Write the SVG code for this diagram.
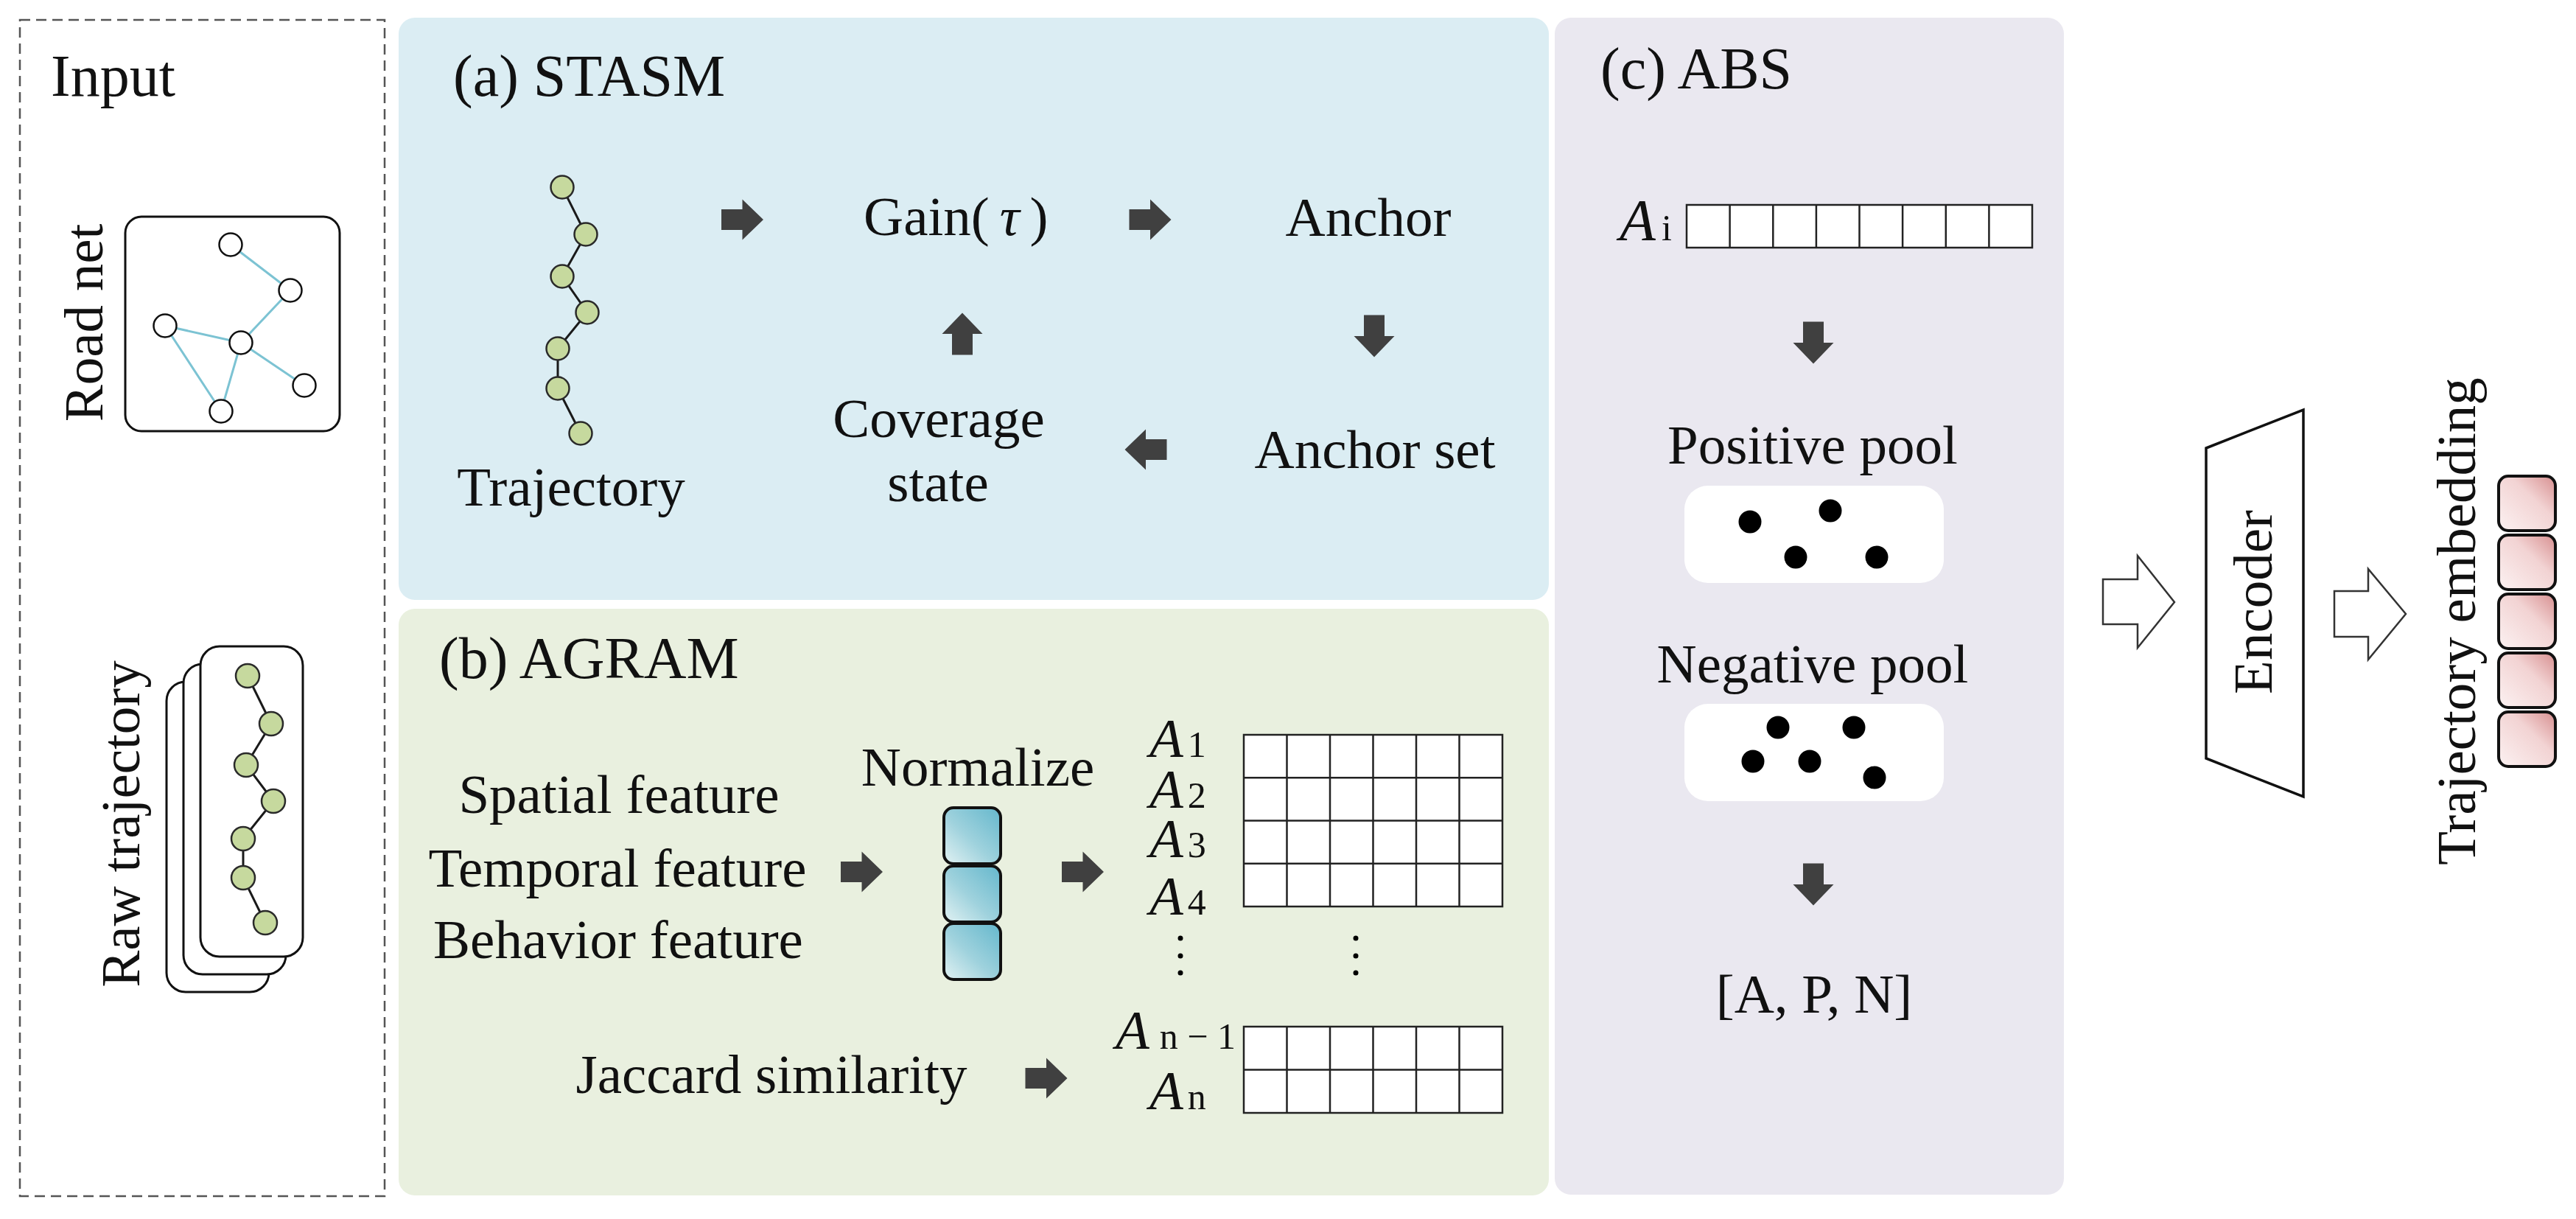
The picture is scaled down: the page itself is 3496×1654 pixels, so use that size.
<svg xmlns="http://www.w3.org/2000/svg" xmlns:xlink="http://www.w3.org/1999/xlink" width="3496" height="1654" viewBox="0 0 3496 1654">
<style>
text{font-family:"Liberation Serif","Times New Roman",serif;fill:#111;}
.t{font-size:75px;}
.h{font-size:80px;}
.it{font-style:italic;}
.sub{font-size:50px;}
.mid{text-anchor:middle;}
.gn{fill:#c6d99e;stroke:#2a2a2a;stroke-width:2.5;}
.wn{fill:#fff;stroke:#111;stroke-width:2.5;}
.lk{stroke:#1a1a1a;stroke-width:3;fill:none;}
.rl{stroke:#7cc3d3;stroke-width:3;fill:none;}
.cell{fill:#fff;stroke:#222;stroke-width:2.5;}
.gl{stroke:#222;stroke-width:2.5;}
.dot{fill:#000;}
.ha{fill:#fff;stroke:#333;stroke-width:2.5;stroke-linejoin:miter;}
</style>
<defs>
<path id="blk" d="M-28.5,-14 H0 V-27.5 L28.5,0 L0,27.5 V14 H-28.5 Z" fill="#404040"/>
<linearGradient id="teal" x1="0" y1="1" x2="1" y2="0">
<stop offset="0" stop-color="#e2f2f3"/>
<stop offset="0.45" stop-color="#9fd2dd"/>
<stop offset="1" stop-color="#64b7cc"/>
</linearGradient>
<linearGradient id="pink" x1="0" y1="1" x2="1" y2="0">
<stop offset="0" stop-color="#fcf2f2"/>
<stop offset="0.6" stop-color="#f2d3d3"/>
<stop offset="1" stop-color="#d78f90"/>
</linearGradient>
</defs>
<rect width="3496" height="1654" fill="#fff"/>

<!-- Input panel -->
<g id="input">
<rect x="27" y="27" width="495" height="1596" fill="none" stroke="#555" stroke-width="2.5" stroke-dasharray="14 8"/>
<text class="h" x="69" y="130">Input</text>
</g>
<g id="road-net">
<text class="t mid" transform="translate(139,438) rotate(-90)">Road net</text>
<rect x="170" y="294" width="291" height="291" rx="22" fill="#fff" stroke="#111" stroke-width="3"/>
<line class="rl" x1="313" y1="332" x2="394" y2="394"/>
<line class="rl" x1="394" y1="394" x2="327" y2="465"/>
<line class="rl" x1="224" y1="442" x2="327" y2="465"/>
<line class="rl" x1="224" y1="442" x2="300" y2="558"/>
<line class="rl" x1="327" y1="465" x2="300" y2="558"/>
<line class="rl" x1="327" y1="465" x2="413" y2="523"/>
<circle class="wn" cx="313" cy="332" r="15.5"/>
<circle class="wn" cx="394" cy="394" r="15.5"/>
<circle class="wn" cx="224" cy="442" r="15.5"/>
<circle class="wn" cx="327" cy="465" r="15.5"/>
<circle class="wn" cx="413" cy="523" r="15.5"/>
<circle class="wn" cx="300" cy="558" r="15.5"/>
</g>
<g id="raw-trajectory">
<text class="t mid" transform="translate(189,1118) rotate(-90)">Raw trajectory</text>
<rect x="226" y="925" width="139" height="421" rx="26" fill="#fff" stroke="#111" stroke-width="3"/>
<rect x="249" y="901" width="139" height="421" rx="26" fill="#fff" stroke="#111" stroke-width="3"/>
<rect x="272" y="877" width="139" height="421" rx="26" fill="#fff" stroke="#111" stroke-width="3"/>
<polyline class="lk" points="336,917 368,982 334,1038 371,1087 330,1138 330,1191 360,1252"/>
<circle class="gn" cx="336" cy="917" r="16"/>
<circle class="gn" cx="368" cy="982" r="16"/>
<circle class="gn" cx="334" cy="1038" r="16"/>
<circle class="gn" cx="371" cy="1087" r="16"/>
<circle class="gn" cx="330" cy="1138" r="16"/>
<circle class="gn" cx="330" cy="1191" r="16"/>
<circle class="gn" cx="360" cy="1252" r="16"/>
</g>

<!-- (a) STASM -->
<g id="stasm">
<rect x="541" y="24" width="1561" height="790" rx="22" fill="#dbedf3"/>
<text class="h" x="615" y="130">(a) STASM</text>
</g>
<g id="trajectory">
<polyline class="lk" points="763,254 795,318 763,375 797,424 757,473 757,527 788,588"/>
<circle class="gn" cx="763" cy="254" r="15.5"/>
<circle class="gn" cx="795" cy="318" r="15.5"/>
<circle class="gn" cx="763" cy="375" r="15.5"/>
<circle class="gn" cx="797" cy="424" r="15.5"/>
<circle class="gn" cx="757" cy="473" r="15.5"/>
<circle class="gn" cx="757" cy="527" r="15.5"/>
<circle class="gn" cx="788" cy="588" r="15.5"/>
<text class="t mid" x="775" y="686">Trajectory</text>
</g>
<g id="gain">
<text class="t" x="1172" y="319">Gain(<tspan class="it" dx="14">τ</tspan><tspan dx="14">)</tspan></text>
</g>
<g id="anchor">
<text class="t mid" x="1857" y="320">Anchor</text>
</g>
<g id="anchor-set">
<text class="t mid" x="1866" y="635">Anchor set</text>
</g>
<g id="coverage-state">
<text class="t mid" x="1274" y="593">Coverage</text>
<text class="t mid" x="1273" y="680">state</text>
</g>

<!-- (b) AGRAM -->
<g id="agram">
<rect x="541" y="826" width="1561" height="796" rx="22" fill="#e9f0df"/>
<text class="h" x="596" y="920">(b) AGRAM</text>
</g>
<g id="features">
<text class="t mid" x="840" y="1103">Spatial feature</text>
<text class="t mid" x="838" y="1203">Temporal feature</text>
<text class="t mid" x="839" y="1300">Behavior feature</text>
</g>
<g id="normalize">
<text class="t mid" x="1327" y="1066">Normalize</text>
<rect x="1281" y="1096" width="77" height="76" rx="13" fill="url(#teal)" stroke="#111" stroke-width="4"/>
<rect x="1281" y="1175" width="77" height="76" rx="13" fill="url(#teal)" stroke="#111" stroke-width="4"/>
<rect x="1281" y="1253" width="77" height="76" rx="13" fill="url(#teal)" stroke="#111" stroke-width="4"/>
</g>
<g id="anchor-matrix">
<text class="t" x="1560" y="1027"><tspan class="it">A</tspan><tspan class="sub" dx="6">1</tspan></text>
<text class="t" x="1560" y="1096"><tspan class="it">A</tspan><tspan class="sub" dx="6">2</tspan></text>
<text class="t" x="1560" y="1163"><tspan class="it">A</tspan><tspan class="sub" dx="6">3</tspan></text>
<text class="t" x="1560" y="1241"><tspan class="it">A</tspan><tspan class="sub" dx="6">4</tspan></text>
<rect class="cell" x="1688" y="997" width="351" height="233"/>
<path class="gl" d="M1746.5,997V1230M1805,997V1230M1863.5,997V1230M1922,997V1230M1980.5,997V1230M1688,1055.25H2039M1688,1113.5H2039M1688,1171.75H2039"/>
<circle class="dot" cx="1602" cy="1273" r="3.5"/>
<circle class="dot" cx="1602" cy="1297" r="3.5"/>
<circle class="dot" cx="1602" cy="1320" r="3.5"/>
<circle class="dot" cx="1840" cy="1273" r="3.5"/>
<circle class="dot" cx="1840" cy="1297" r="3.5"/>
<circle class="dot" cx="1840" cy="1320" r="3.5"/>
<text class="t" x="1514" y="1423"><tspan class="it">A</tspan><tspan class="sub" dx="14">n − 1</tspan></text>
<text class="t" x="1560" y="1505"><tspan class="it">A</tspan><tspan class="sub" dx="6">n</tspan></text>
<rect class="cell" x="1688" y="1393" width="351" height="117"/>
<path class="gl" d="M1746.5,1393V1510M1805,1393V1510M1863.5,1393V1510M1922,1393V1510M1980.5,1393V1510M1688,1451.5H2039"/>
</g>
<g id="jaccard">
<text class="t mid" x="1047" y="1483">Jaccard similarity</text>
</g>

<!-- (c) ABS -->
<g id="abs">
<rect x="2110" y="24" width="691" height="1597" rx="22" fill="#eae8f0"/>
<text class="h" x="2172" y="120">(c) ABS</text>
</g>
<g id="ai">
<text class="t" x="2198" y="326"><tspan class="it" font-size="80">A</tspan><tspan class="sub" dx="8">i</tspan></text>
<rect class="cell" x="2289" y="278" width="469" height="58"/>
<path class="gl" d="M2347.6,278V336M2406.3,278V336M2464.9,278V336M2523.5,278V336M2582.1,278V336M2640.8,278V336M2699.4,278V336"/>
</g>
<g id="positive-pool">
<text class="t mid" x="2460" y="629">Positive pool</text>
<rect x="2286" y="659" width="352" height="132" rx="32" fill="#fff"/>
<circle class="dot" cx="2375" cy="708" r="15.5"/>
<circle class="dot" cx="2484" cy="693" r="15.5"/>
<circle class="dot" cx="2437" cy="756" r="15.5"/>
<circle class="dot" cx="2547" cy="756" r="15.5"/>
</g>
<g id="negative-pool">
<text class="t mid" x="2460" y="926">Negative pool</text>
<rect x="2286" y="955" width="352" height="132" rx="32" fill="#fff"/>
<circle class="dot" cx="2413" cy="987" r="15.5"/>
<circle class="dot" cx="2516" cy="987" r="15.5"/>
<circle class="dot" cx="2379" cy="1033" r="15.5"/>
<circle class="dot" cx="2456" cy="1033" r="15.5"/>
<circle class="dot" cx="2544" cy="1055" r="15.5"/>
</g>
<g id="apn">
<text class="t mid" x="2462" y="1374">[A, P, N]</text>
</g>

<!-- Encoder and output -->
<g id="encoder">
<polygon points="2994,608 3126,556 3126,1081 2994,1029" fill="#fff" stroke="#111" stroke-width="3.5"/>
<text class="t mid" transform="translate(3083,817) rotate(-90)">Encoder</text>
</g>
<g id="trajectory-embedding">
<text class="t mid" transform="translate(3359,843) rotate(-90)">Trajectory embedding</text>
<rect x="3391" y="646" width="77" height="74" rx="13" fill="url(#pink)" stroke="#111" stroke-width="4"/>
<rect x="3391" y="726" width="77" height="74" rx="13" fill="url(#pink)" stroke="#111" stroke-width="4"/>
<rect x="3391" y="806" width="77" height="74" rx="13" fill="url(#pink)" stroke="#111" stroke-width="4"/>
<rect x="3391" y="886" width="77" height="74" rx="13" fill="url(#pink)" stroke="#111" stroke-width="4"/>
<rect x="3391" y="966" width="77" height="74" rx="13" fill="url(#pink)" stroke="#111" stroke-width="4"/>
</g>

<!-- Connectors -->
<g id="connectors">
<use href="#blk" xlink:href="#blk" transform="translate(1007.5,298)"/>
<use href="#blk" xlink:href="#blk" transform="translate(1561,298)"/>
<use href="#blk" xlink:href="#blk" transform="translate(1865,456) rotate(90)"/>
<use href="#blk" xlink:href="#blk" transform="translate(1555,610) rotate(180)"/>
<use href="#blk" xlink:href="#blk" transform="translate(1306,453) rotate(-90)"/>
<use href="#blk" xlink:href="#blk" transform="translate(1169.5,1183)"/>
<use href="#blk" xlink:href="#blk" transform="translate(1469.5,1183)"/>
<use href="#blk" xlink:href="#blk" transform="translate(1420,1463)"/>
<use href="#blk" xlink:href="#blk" transform="translate(2461,465) rotate(90)"/>
<use href="#blk" xlink:href="#blk" transform="translate(2461,1200) rotate(90)"/>
<polygon class="ha" points="2854,786 2901,786 2901,754 2951,817 2901,879 2901,847 2854,847"/>
<polygon class="ha" points="3168,802 3214,802 3214,772 3265,833 3214,895 3214,864 3168,864"/>
</g>
</svg>
